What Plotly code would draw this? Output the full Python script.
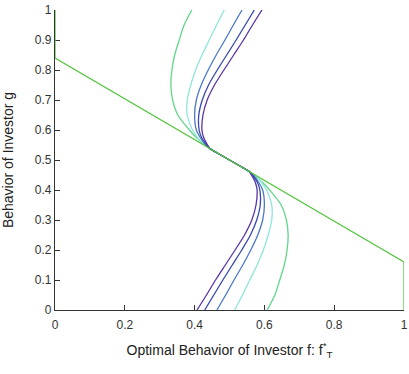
import plotly.graph_objects as go

# y levels (Behavior of Investor g) at which each curve's x-value was read
g_levels = [1.0, 0.95, 0.9, 0.85, 0.8, 0.75, 0.7, 0.65, 0.6, 0.575, 0.55, 0.538,
            0.52, 0.5, 0.48,
            0.462, 0.45, 0.425, 0.4, 0.35, 0.3, 0.25, 0.2, 0.15, 0.1, 0.05, 0.0]

f_green = [0.392, 0.370, 0.356, 0.343, 0.335, 0.332, 0.337, 0.352, 0.385, 0.405, 0.430, 0.444,
           0.47, 0.5, 0.53,
           0.556, 0.570, 0.595, 0.615, 0.648, 0.663, 0.668, 0.665, 0.657, 0.644, 0.630, 0.608]
f_cyan = [0.485, 0.463, 0.442, 0.421, 0.403, 0.389, 0.379, 0.379, 0.394, 0.408, 0.428, 0.444,
          0.47, 0.5, 0.53,
          0.556, 0.572, 0.592, 0.606, 0.621, 0.621, 0.611, 0.597, 0.579, 0.558, 0.537, 0.515]
f_blue = [0.536, 0.511, 0.487, 0.462, 0.439, 0.419, 0.405, 0.400, 0.405, 0.416, 0.432, 0.444,
          0.47, 0.5, 0.53,
          0.556, 0.568, 0.584, 0.595, 0.600, 0.595, 0.581, 0.561, 0.538, 0.513, 0.489, 0.464]
f_darkblue = [0.571, 0.545, 0.519, 0.492, 0.465, 0.440, 0.422, 0.412, 0.413, 0.420, 0.435, 0.444,
              0.47, 0.5, 0.53,
              0.556, 0.565, 0.580, 0.587, 0.588, 0.578, 0.560, 0.535, 0.508, 0.481, 0.455, 0.429]
f_purple = [0.593, 0.566, 0.540, 0.512, 0.484, 0.457, 0.436, 0.424, 0.421, 0.426, 0.437, 0.444,
            0.47, 0.5, 0.53,
            0.556, 0.563, 0.574, 0.579, 0.576, 0.564, 0.543, 0.516, 0.488, 0.460, 0.434, 0.407]

# best-response boundary (green polyline)
br_x = [0, 0, 1, 1]
br_y = [1.0, 0.84, 0.16, 0.0]

curves = [
    (f_green, "#62d68a"),
    (f_cyan, "#8fe6dc"),
    (f_blue, "#4b79c6"),
    (f_darkblue, "#3848ad"),
    (f_purple, "#5a34a6"),
]

fig = go.Figure()
for xs, col in curves:
    fig.add_trace(go.Scatter(x=xs, y=g_levels, mode="lines",
                             line=dict(color=col, width=1.3, shape="spline", smoothing=0.8),
                             hoverinfo="skip", showlegend=False))
fig.add_trace(go.Scatter(x=br_x, y=br_y, mode="lines",
                         line=dict(color="#55c63f", width=1.3),
                         hoverinfo="skip", showlegend=False))

font_tick = dict(family="Liberation Sans, Arial", size=12, color="#333333")
font_title = dict(family="Liberation Sans, Arial", size=14, color="#222222")
axis_common = dict(showgrid=False, zeroline=False, showline=True, linecolor="#333333",
                   linewidth=1.2, ticks="inside", ticklen=5, tickcolor="#333333",
                   tickfont=font_tick, mirror=False, automargin=False, layer="below traces")
fig.update_xaxes(range=[0, 1], tickvals=[0, 0.2, 0.4, 0.6, 0.8, 1],
                 ticktext=["0", "0.2", "0.4", "0.6", "0.8", "1"],
                 ticklabelstandoff=3,
                 title=dict(text="Optimal Behavior of Investor f: f<sup>*</sup><sub>T</sub>",
                            font=font_title, standoff=14),
                 **axis_common)
fig.update_yaxes(range=[0, 1], tickvals=[0, 0.1, 0.2, 0.3, 0.4, 0.5, 0.6, 0.7, 0.8, 0.9, 1],
                 ticktext=["0", "0.1", "0.2", "0.3", "0.4", "0.5", "0.6", "0.7", "0.8", "0.9", "1"],
                 title=dict(text="Behavior of Investor g", font=font_title, standoff=19),
                 **axis_common)
fig.update_layout(width=409, height=374, margin=dict(l=55, r=5, t=10, b=64),
                  plot_bgcolor="white", paper_bgcolor="white")
fig.write_html("out.html", config={"displayModeBar": False},
               post_script="document.body.style.margin='0';")
